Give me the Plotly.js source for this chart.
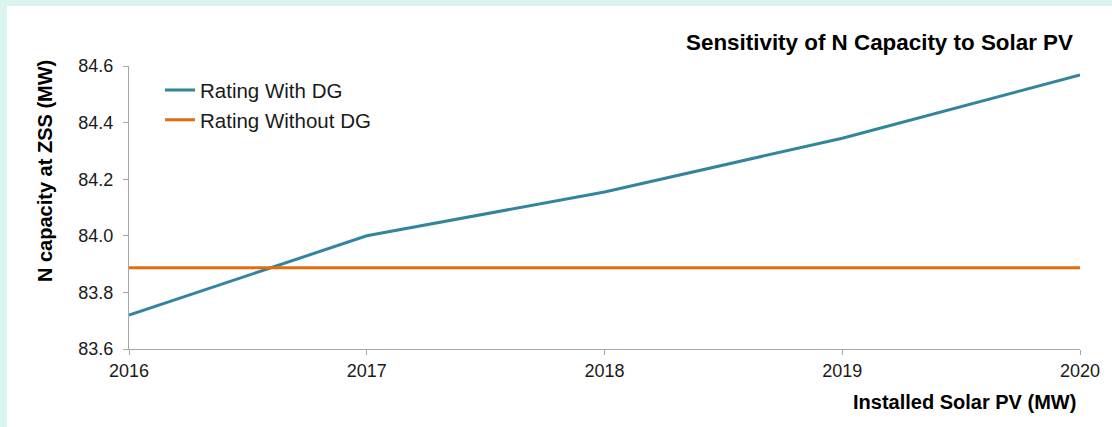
<!DOCTYPE html>
<html>
<head>
<meta charset="utf-8">
<script src="https://cdn.plot.ly/plotly-3.0.1.min.js"></script>
<style>
  html, body { margin: 0; padding: 0; background: #dbf4f0; width: 1112px; height: 427px; overflow: hidden; }
  #chart { position: absolute; left: 7px; top: 6px; width: 1105px; height: 421px; background: #ffffff; }
</style>
</head>
<body>
<div id="chart"></div>
<script>
const years = [2016, 2017, 2018, 2019, 2020];
const ratingWithDG = [83.72, 84.00, 84.155, 84.345, 84.568];
const ratingWithoutDG = [83.887, 83.887, 83.887, 83.887, 83.887];
const seriesNames = ['Rating With DG', 'Rating Without DG'];
const yTicks = [83.6, 83.8, 84.0, 84.2, 84.4, 84.6];
const xTicks = [2016, 2017, 2018, 2019, 2020];

const FONT = 'Liberation Sans, Arial, sans-serif';

const traces = [
  {
    x: years, y: ratingWithDG, name: seriesNames[0], mode: 'lines', legendgroup: 'a',
    line: { color: '#31859c', width: 3 }
  },
  {
    x: years, y: ratingWithoutDG, name: seriesNames[1], mode: 'lines', legendgroup: 'b',
    line: { color: '#e46c0a', width: 3 }
  }
];

const layout = {
  width: 1105, height: 421,
  paper_bgcolor: '#ffffff', plot_bgcolor: '#ffffff',
  margin: { l: 122, r: 32, t: 60, b: 78, pad: 0 },
  font: { family: FONT, color: '#1a1a1a' },
  title: {
    text: '<b>Sensitivity of N Capacity to Solar PV</b>',
    font: { family: FONT, size: 22.4, color: '#000000' },
    xref: 'container', yref: 'container',
    x: 0.9647, xanchor: 'right',
    y: 0.915, yanchor: 'middle'
  },
  xaxis: {
    range: [2016, 2020], tickvals: xTicks, ticktext: xTicks.map(String),
    showgrid: false, zeroline: false,
    showline: true, linecolor: '#a6a6a6', linewidth: 1,
    ticks: 'outside', ticklen: 5, tickcolor: '#a6a6a6', tickwidth: 1,
    tickfont: { family: FONT, size: 18, color: '#1a1a1a' },
    fixedrange: true
  },
  yaxis: {
    range: [83.6, 84.6], tickvals: yTicks, ticktext: yTicks.map(v => v.toFixed(1)),
    showgrid: false, zeroline: false,
    showline: true, linecolor: '#a6a6a6', linewidth: 1,
    ticks: 'outside', ticklen: 5, tickcolor: '#a6a6a6', tickwidth: 1,
    tickfont: { family: FONT, size: 18, color: '#1a1a1a' },
    ticklabelstandoff: 6,
    fixedrange: true
  },
  showlegend: true,
  legend: {
    x: 0.0326, y: 0.985, xanchor: 'left', yanchor: 'top',
    bgcolor: 'rgba(0,0,0,0)', borderwidth: 0,
    font: { family: FONT, size: 20.5, color: '#1a1a1a' },
    traceorder: 'grouped', tracegroupgap: 0
  },
  annotations: [
    {
      text: '<b>Installed Solar PV (MW)</b>',
      xref: 'paper', yref: 'paper', x: 0.998, y: -0.187,
      xanchor: 'right', yanchor: 'middle', showarrow: false,
      font: { family: FONT, size: 20, color: '#000000' }
    },
    {
      text: '<b>N capacity at ZSS (MW)</b>',
      xref: 'paper', yref: 'paper', x: -0.0883, y: 0.629,
      xanchor: 'center', yanchor: 'middle', showarrow: false, textangle: -90,
      font: { family: FONT, size: 20, color: '#000000' }
    }
  ]
};

Plotly.newPlot('chart', traces, layout, { displayModeBar: false, staticPlot: true });
</script>
</body>
</html>
